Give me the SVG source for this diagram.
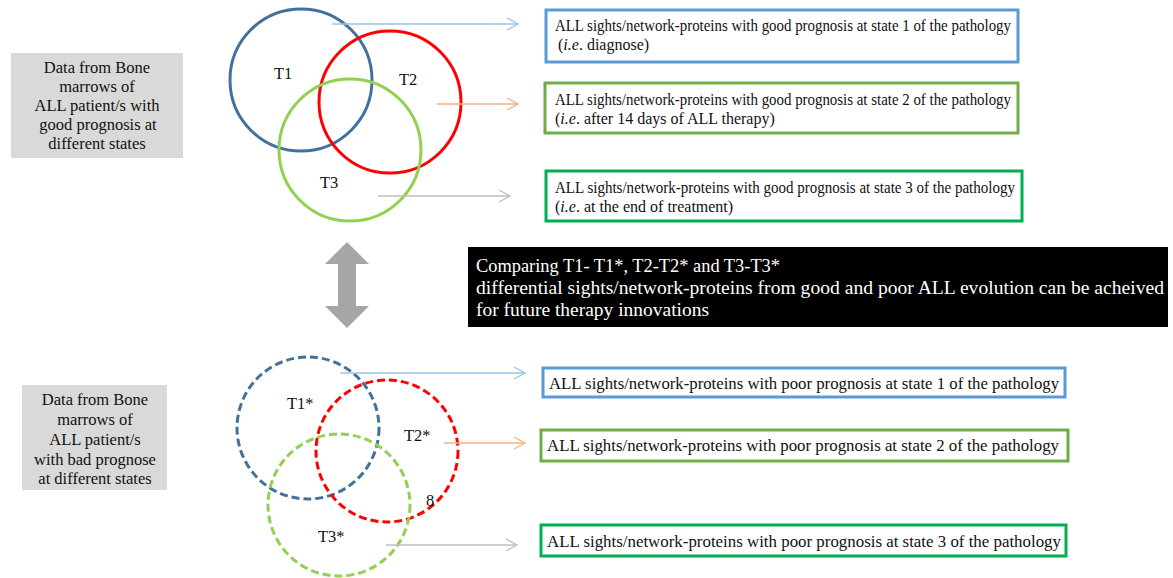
<svg xmlns="http://www.w3.org/2000/svg" width="1173" height="578" viewBox="0 0 1173 578">
<style>
text{font-family:"Liberation Serif","Times New Roman",serif;font-size:16.5px;fill:#111}
.lbl{font-size:16.5px}
.bt{font-size:17px}
.bs{font-size:16px}
.gray{fill:#d9d9d9}
.c{fill:none;stroke-width:3}
.d{stroke-dasharray:8 4}
.box{fill:#fff;stroke-width:3}
.wt{fill:#fff;font-size:19px}
.a{fill:none;stroke-width:1.3}
</style>
<defs>
<marker id="mb" markerWidth="14" markerHeight="14" refX="12" refY="7" markerUnits="userSpaceOnUse" orient="auto"><path d="M1,1 L12,7 L1,13" fill="none" stroke="#9dc3e6" stroke-width="1.3"/></marker>
<marker id="mo" markerWidth="14" markerHeight="14" refX="12" refY="7" markerUnits="userSpaceOnUse" orient="auto"><path d="M1,1 L12,7 L1,13" fill="none" stroke="#f4b183" stroke-width="1.3"/></marker>
<marker id="mg" markerWidth="14" markerHeight="14" refX="12" refY="7" markerUnits="userSpaceOnUse" orient="auto"><path d="M1,1 L12,7 L1,13" fill="none" stroke="#bfbfbf" stroke-width="1.3"/></marker>
</defs>
<rect width="1173" height="578" fill="#fff"/>

<g id="good-source">
<rect class="gray" x="11" y="53" width="172" height="105"/>
<text x="97" y="73" text-anchor="middle">Data from Bone</text>
<text x="97" y="92" text-anchor="middle">marrows of</text>
<text x="97" y="111" text-anchor="middle">ALL patient/s with</text>
<text x="98" y="130" text-anchor="middle">good prognosis at</text>
<text x="97" y="149" text-anchor="middle">different states</text>
</g>

<g id="venn-good">
<circle class="c" cx="301" cy="80" r="71" stroke="#41719c"/>
<circle class="c" cx="390" cy="102" r="71" stroke="#ff0000"/>
<circle class="c" cx="350" cy="150" r="71" stroke="#92d050"/>
<text class="lbl" x="274" y="79">T1</text>
<text class="lbl" x="399" y="85">T2</text>
<text class="lbl" x="320" y="188">T3</text>
</g>

<g id="good-1">
<rect class="box" x="546" y="10" width="472" height="52" stroke="#5b9bd5"/>
<text class="bt" x="555" y="31" textLength="456" lengthAdjust="spacingAndGlyphs">ALL sights/network-proteins with good prognosis at state 1 of the pathology</text>
<text class="bs" x="558" y="50"> (<tspan font-style="italic">i.e</tspan>. diagnose)</text>
</g>
<g id="good-2">
<rect class="box" x="545" y="83" width="473" height="50" stroke="#70ad47"/>
<text class="bt" x="555" y="105" textLength="456" lengthAdjust="spacingAndGlyphs">ALL sights/network-proteins with good prognosis at state 2 of the pathology</text>
<text class="bs" x="555" y="124">(<tspan font-style="italic">i.e</tspan>. after 14 days of ALL therapy)</text>
</g>
<g id="good-3">
<rect class="box" x="546" y="171" width="476" height="50" stroke="#00b050"/>
<text class="bt" x="555" y="193" textLength="460" lengthAdjust="spacingAndGlyphs">ALL sights/network-proteins  with good prognosis at state 3 of the pathology</text>
<text class="bs" x="555" y="212">(<tspan font-style="italic">i.e</tspan>. at the end of treatment)</text>
</g>

<g id="compare-arrow">
<path d="M347,242 L369,264 L356,264 L356,306 L369,306 L347,328 L325,306 L338,306 L338,264 L325,264 Z" fill="#a6a6a6"/>
</g>

<g id="compare-box">
<rect x="468" y="247" width="700" height="80" fill="#000"/>
<text class="wt" x="476" y="272" textLength="304" lengthAdjust="spacingAndGlyphs">Comparing T1- T1*, T2-T2* and T3-T3*</text>
<text class="wt" x="476" y="294" textLength="688" lengthAdjust="spacingAndGlyphs">differential sights/network-proteins from good and poor  ALL evolution can be acheived</text>
<text class="wt" x="476" y="316" textLength="233" lengthAdjust="spacingAndGlyphs">for future therapy innovations</text>
</g>

<g id="bad-source">
<rect class="gray" x="22" y="385" width="145" height="105"/>
<text x="95" y="405" text-anchor="middle">Data from Bone</text>
<text x="95" y="425" text-anchor="middle">marrows of</text>
<text x="95" y="445" text-anchor="middle">ALL patient/s</text>
<text x="95" y="465" text-anchor="middle">with bad prognose</text>
<text x="95" y="484" text-anchor="middle">at different states</text>
</g>

<g id="venn-bad">
<circle class="c d" cx="308" cy="428" r="71" stroke="#41719c"/>
<circle class="c d" cx="387" cy="451" r="71" stroke="#ff0000"/>
<circle class="c d" cx="339" cy="505" r="71" stroke="#92d050"/>
<text class="lbl" x="287" y="409">T1*</text>
<text class="lbl" x="404" y="441">T2*</text>
<text class="lbl" x="318" y="542">T3*</text>
<text class="lbl" x="426" y="506">8</text>
</g>

<g id="bad-1">
<rect class="box" x="543" y="368" width="522" height="29" stroke="#5b9bd5"/>
<text class="bt" x="549" y="389" textLength="510" lengthAdjust="spacingAndGlyphs">ALL sights/network-proteins  with poor prognosis at state 1 of the pathology</text>
</g>
<g id="bad-2">
<rect class="box" x="541" y="430" width="527" height="31" stroke="#70ad47"/>
<text class="bt" x="547" y="451" textLength="512" lengthAdjust="spacingAndGlyphs">ALL sights/network-proteins with poor prognosis at state 2 of the pathology</text>
</g>
<g id="bad-3">
<rect class="box" x="541" y="525" width="525" height="31" stroke="#00b050"/>
<text class="bt" x="547" y="547" textLength="514" lengthAdjust="spacingAndGlyphs">ALL sights/network-proteins  with poor prognosis at state 3 of the pathology</text>
</g>

<g id="connectors">
<line class="a" x1="332" y1="24" x2="518" y2="24" stroke="#9dc3e6" marker-end="url(#mb)"/>
<line class="a" x1="437" y1="104" x2="518" y2="104" stroke="#f4b183" marker-end="url(#mo)"/>
<line class="a" x1="378" y1="196" x2="510" y2="196" stroke="#bfbfbf" marker-end="url(#mg)"/>
<line class="a" x1="340" y1="373" x2="525" y2="373" stroke="#9dc3e6" marker-end="url(#mb)"/>
<line class="a" x1="444" y1="443" x2="525" y2="443" stroke="#f4b183" marker-end="url(#mo)"/>
<line class="a" x1="386" y1="545" x2="517" y2="545" stroke="#bfbfbf" marker-end="url(#mg)"/>
</g>
</svg>
